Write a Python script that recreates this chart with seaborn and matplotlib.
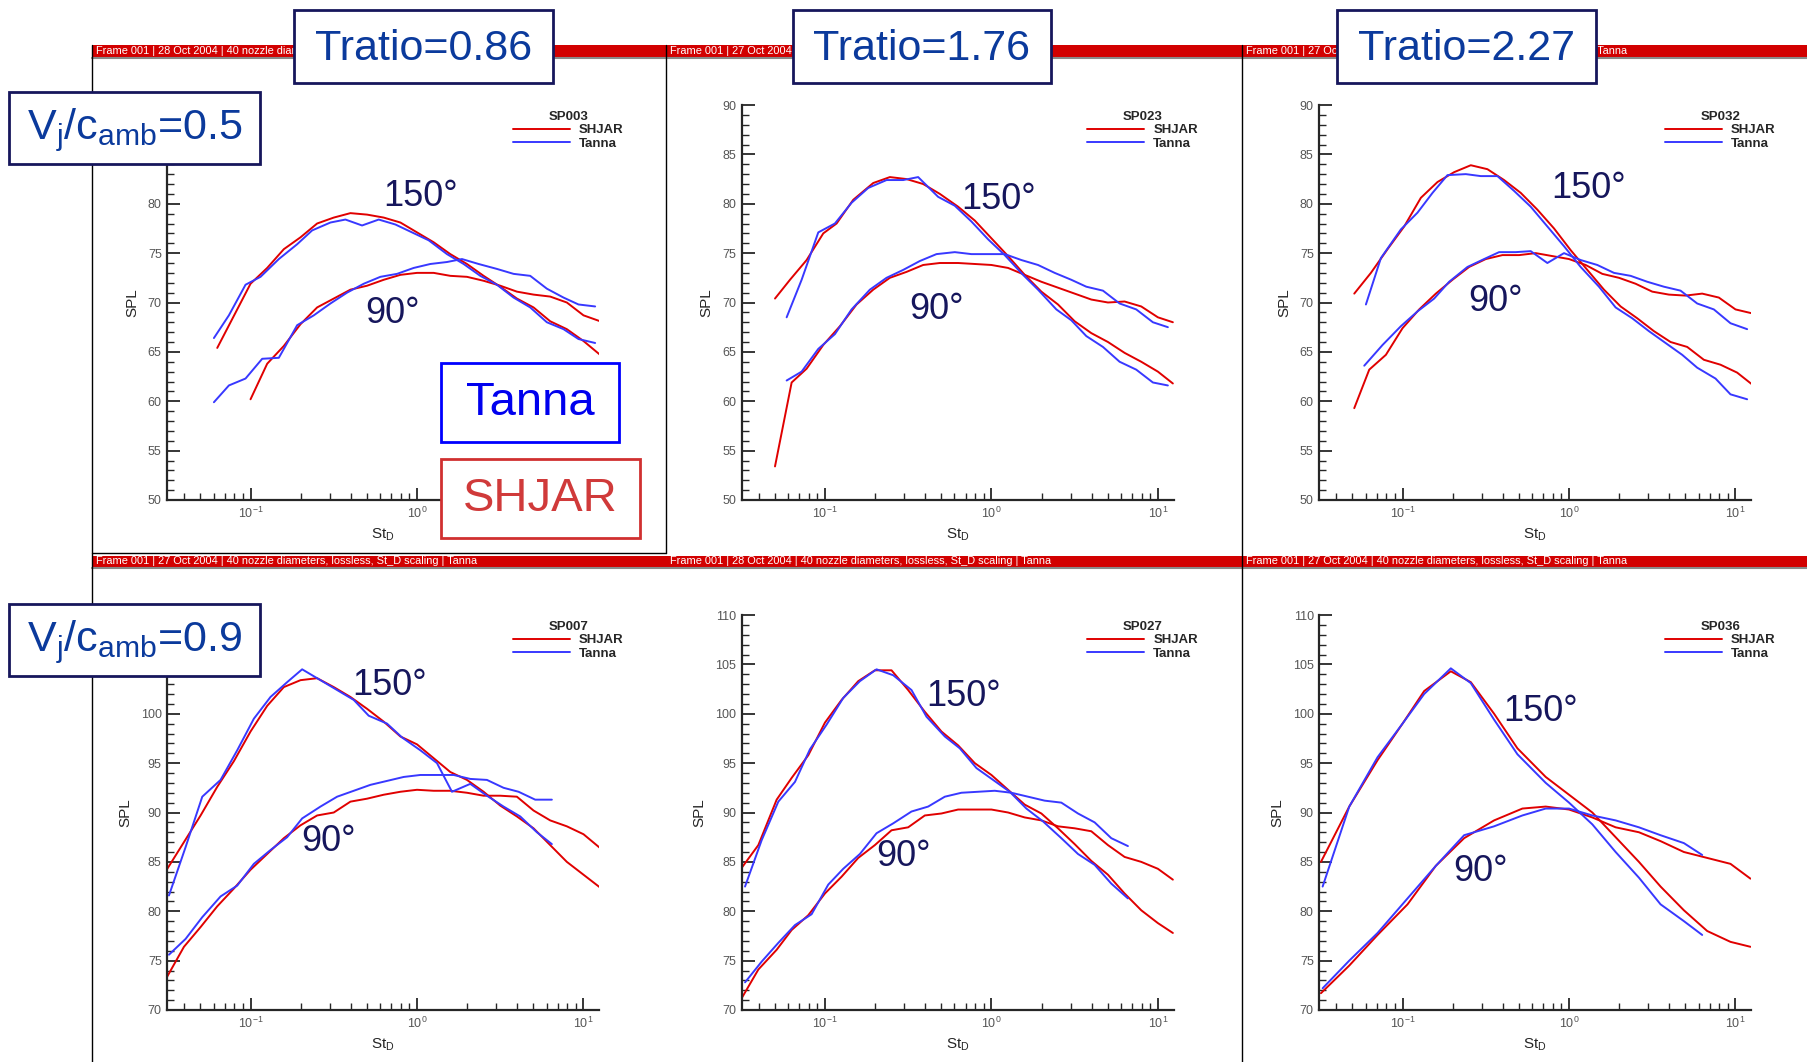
import numpy as np
import pandas as pd
import matplotlib
matplotlib.use("Agg")
import matplotlib.pyplot as plt
import seaborn as sns
from matplotlib import font_manager
from matplotlib.patches import Rectangle
from matplotlib.lines import Line2D
from matplotlib.ticker import MultipleLocator, LogLocator, NullFormatter

# ---- data: (log10 St_D, SPL) ----
# SP003  Vj/c=0.5  Tratio=0.86
tl_shjar_150 = [(-1.20, 65.4), (-1.00, 71.9), (-0.90, 73.5), (-0.80, 75.4), (-0.70, 76.6), (-0.60, 78.0),
                (-0.50, 78.6), (-0.40, 79.05), (-0.30, 78.9), (-0.20, 78.6), (-0.10, 78.1), (0.00, 77.1),
                (0.10, 76.1), (0.20, 74.9), (0.30, 73.9), (0.40, 72.7), (0.50, 71.6), (0.60, 70.4),
                (0.70, 69.5), (0.80, 68.1), (0.90, 67.3), (1.00, 66.1), (1.10, 64.7)]
tl_tanna_150 = [(-1.22, 66.4), (-1.13, 68.7), (-1.03, 71.8), (-0.94, 72.6), (-0.83, 74.4), (-0.72, 75.9),
                (-0.63, 77.3), (-0.52, 78.1), (-0.43, 78.4), (-0.33, 77.8), (-0.23, 78.4), (-0.13, 77.9),
                (-0.03, 77.1), (0.07, 76.3), (0.18, 74.9), (0.28, 73.9), (0.38, 72.7), (0.48, 71.8),
                (0.58, 70.5), (0.68, 69.5), (0.78, 68.0), (0.88, 67.3), (0.97, 66.3), (1.07, 65.9)]
tl_shjar_90 = [(-1.00, 60.2), (-0.90, 63.8), (-0.80, 65.6), (-0.70, 67.8), (-0.60, 69.5), (-0.50, 70.4),
               (-0.40, 71.3), (-0.30, 71.7), (-0.20, 72.3), (-0.10, 72.8), (0.00, 73.0), (0.10, 73.0),
               (0.20, 72.7), (0.30, 72.6), (0.40, 72.2), (0.50, 71.7), (0.60, 71.1), (0.70, 70.8),
               (0.80, 70.6), (0.90, 70.0), (1.00, 68.7), (1.10, 68.1)]
tl_tanna_90 = [(-1.22, 59.9), (-1.13, 61.6), (-1.03, 62.3), (-0.93, 64.3), (-0.83, 64.4), (-0.72, 67.7),
               (-0.62, 68.7), (-0.52, 69.9), (-0.42, 71.0), (-0.32, 71.9), (-0.22, 72.6), (-0.12, 72.9),
               (-0.02, 73.5), (0.08, 73.9), (0.18, 74.1), (0.27, 74.4), (0.37, 73.9), (0.48, 73.4),
               (0.58, 72.9), (0.68, 72.7), (0.78, 71.4), (0.88, 70.5), (0.97, 69.8), (1.07, 69.6)]

# SP023  Vj/c=0.5  Tratio=1.76
tm_shjar_150 = [(-1.30, 70.4), (-1.21, 72.3), (-1.11, 74.3), (-1.01, 77.0), (-0.93, 78.0), (-0.83, 80.4),
                (-0.71, 82.1), (-0.61, 82.7), (-0.51, 82.5), (-0.41, 82.0), (-0.31, 81.0), (-0.20, 79.7),
                (-0.10, 78.3), (0.00, 76.5), (0.10, 74.7), (0.20, 72.8), (0.30, 71.1), (0.40, 69.8),
                (0.50, 68.1), (0.60, 66.9), (0.70, 66.0), (0.80, 64.9), (0.90, 64.0), (1.00, 63.0), (1.09, 61.8)]
tm_tanna_150 = [(-1.23, 68.5), (-1.14, 72.3), (-1.04, 77.1), (-0.94, 78.0), (-0.84, 80.1), (-0.74, 81.6),
                (-0.63, 82.4), (-0.53, 82.4), (-0.44, 82.7), (-0.32, 80.7), (-0.22, 79.8), (-0.12, 78.2),
                (-0.02, 76.4), (0.08, 74.8), (0.19, 72.8), (0.28, 71.3), (0.39, 69.3), (0.48, 68.2),
                (0.57, 66.6), (0.67, 65.5), (0.77, 64.0), (0.87, 63.2), (0.97, 61.9), (1.06, 61.6)]
tm_shjar_90 = [(-1.30, 53.4), (-1.20, 61.9), (-1.11, 63.3), (-1.01, 65.7), (-0.91, 67.6), (-0.81, 69.8),
               (-0.71, 71.3), (-0.61, 72.5), (-0.51, 73.1), (-0.41, 73.8), (-0.31, 74.0), (-0.20, 74.0),
               (-0.10, 73.9), (0.00, 73.8), (0.10, 73.5), (0.20, 72.8), (0.30, 72.1), (0.40, 71.5),
               (0.50, 70.9), (0.60, 70.3), (0.70, 70.0), (0.80, 70.1), (0.90, 69.6), (1.00, 68.5), (1.09, 68.0)]
tm_tanna_90 = [(-1.23, 62.1), (-1.14, 63.0), (-1.04, 65.3), (-0.94, 66.8), (-0.84, 69.3), (-0.73, 71.3),
               (-0.63, 72.5), (-0.53, 73.3), (-0.43, 74.2), (-0.33, 74.9), (-0.22, 75.1), (-0.12, 74.9),
               (-0.02, 74.9), (0.08, 74.9), (0.18, 74.3), (0.28, 73.8), (0.38, 73.0), (0.48, 72.3),
               (0.57, 71.6), (0.67, 71.2), (0.77, 69.9), (0.87, 69.3), (0.97, 68.0), (1.06, 67.5)]

# SP032  Vj/c=0.5  Tratio=2.27
tr_shjar_150 = [(-1.29, 70.9), (-1.19, 73.0), (-1.09, 75.4), (-0.99, 77.7), (-0.89, 80.6), (-0.79, 82.2),
                (-0.69, 83.2), (-0.59, 83.9), (-0.49, 83.5), (-0.39, 82.4), (-0.29, 81.1), (-0.19, 79.4),
                (-0.09, 77.5), (0.01, 75.3), (0.11, 73.3), (0.21, 71.3), (0.31, 69.6), (0.41, 68.4),
                (0.51, 67.1), (0.61, 66.0), (0.71, 65.5), (0.81, 64.2), (0.91, 63.7), (1.01, 62.9), (1.10, 61.7)]
tr_tanna_150 = [(-1.22, 69.8), (-1.13, 74.5), (-1.01, 77.4), (-0.91, 79.1), (-0.82, 81.1), (-0.73, 82.9),
                (-0.62, 83.0), (-0.53, 82.8), (-0.43, 82.8), (-0.33, 81.3), (-0.23, 79.7), (-0.13, 77.7),
                (-0.03, 75.7), (0.07, 73.6), (0.18, 71.6), (0.28, 69.5), (0.38, 68.4), (0.48, 67.1),
                (0.58, 65.9), (0.68, 64.7), (0.77, 63.4), (0.88, 62.3), (0.97, 60.7), (1.07, 60.2)]
tr_shjar_90 = [(-1.29, 59.3), (-1.20, 63.2), (-1.10, 64.7), (-1.00, 67.4), (-0.90, 69.3), (-0.80, 70.9),
               (-0.70, 72.3), (-0.60, 73.6), (-0.50, 74.4), (-0.40, 74.8), (-0.30, 74.8), (-0.20, 75.0),
               (-0.10, 74.7), (0.00, 74.4), (0.10, 73.8), (0.20, 72.9), (0.30, 72.5), (0.40, 71.9),
               (0.50, 71.1), (0.60, 70.8), (0.70, 70.7), (0.80, 70.9), (0.90, 70.5), (1.00, 69.3), (1.10, 68.9)]
tr_tanna_90 = [(-1.23, 63.6), (-1.12, 65.7), (-1.01, 67.6), (-0.91, 69.1), (-0.81, 70.4), (-0.72, 72.1),
               (-0.61, 73.6), (-0.51, 74.4), (-0.42, 75.1), (-0.32, 75.1), (-0.23, 75.2), (-0.13, 74.0),
               (-0.03, 75.0), (0.07, 74.3), (0.17, 73.8), (0.27, 73.0), (0.37, 72.7), (0.47, 72.1),
               (0.57, 71.6), (0.67, 71.2), (0.77, 69.9), (0.87, 69.3), (0.97, 67.9), (1.07, 67.3)]

# SP007  Vj/c=0.9  Tratio=0.86
bl_shjar_150 = [(-1.50, 84.3), (-1.40, 87.0), (-1.30, 89.7), (-1.20, 92.6), (-1.10, 95.2), (-1.00, 98.2),
                (-0.90, 100.8), (-0.80, 102.7), (-0.70, 103.4), (-0.60, 103.6), (-0.50, 102.7), (-0.40, 101.7),
                (-0.30, 100.5), (-0.20, 99.2), (-0.10, 97.7), (0.00, 96.9), (0.10, 95.5), (0.20, 94.1),
                (0.30, 93.3), (0.40, 92.1), (0.50, 90.7), (0.60, 89.6), (0.70, 88.4), (0.80, 86.7),
                (0.90, 85.0), (1.00, 83.7), (1.10, 82.4)]
bl_tanna_150 = [(-1.49, 81.6), (-1.39, 86.5), (-1.29, 91.6), (-1.18, 93.3), (-1.08, 96.3), (-0.98, 99.5),
                (-0.88, 101.7), (-0.78, 103.2), (-0.69, 104.5), (-0.58, 103.4), (-0.48, 102.4), (-0.38, 101.4),
                (-0.29, 99.8), (-0.18, 99.0), (-0.09, 97.6), (0.02, 96.3), (0.12, 95.0), (0.21, 92.1),
                (0.32, 92.9), (0.42, 91.7), (0.52, 90.6), (0.62, 89.6), (0.72, 88.0), (0.81, 86.8)]
bl_shjar_90 = [(-1.50, 73.4), (-1.40, 76.4), (-1.30, 78.4), (-1.20, 80.5), (-1.10, 82.3), (-1.00, 84.2),
               (-0.90, 85.8), (-0.80, 87.4), (-0.70, 88.7), (-0.60, 89.7), (-0.50, 90.0), (-0.40, 91.1),
               (-0.30, 91.4), (-0.20, 91.8), (-0.10, 92.1), (0.00, 92.3), (0.10, 92.2), (0.20, 92.2),
               (0.30, 92.0), (0.40, 91.7), (0.50, 91.7), (0.60, 91.6), (0.70, 90.2), (0.80, 89.2),
               (0.90, 88.6), (1.00, 87.8), (1.10, 86.4)]
bl_tanna_90 = [(-1.49, 75.6), (-1.39, 77.2), (-1.29, 79.4), (-1.18, 81.5), (-1.08, 82.6), (-0.98, 84.8),
               (-0.88, 86.2), (-0.78, 87.5), (-0.69, 89.4), (-0.58, 90.6), (-0.48, 91.6), (-0.38, 92.2),
               (-0.28, 92.8), (-0.18, 93.2), (-0.08, 93.6), (0.02, 93.8), (0.12, 93.8), (0.22, 93.8),
               (0.32, 93.4), (0.42, 93.3), (0.52, 92.5), (0.61, 92.1), (0.71, 91.3), (0.81, 91.3)]

# SP027  Vj/c=0.9  Tratio=1.76
bm_shjar_150 = [(-1.50, 84.4), (-1.40, 86.7), (-1.29, 91.3), (-1.20, 93.5), (-1.10, 95.8), (-1.00, 99.1),
                (-0.90, 101.4), (-0.80, 103.3), (-0.70, 104.4), (-0.60, 104.4), (-0.50, 102.4), (-0.40, 100.2),
                (-0.30, 98.2), (-0.20, 96.8), (-0.10, 95.0), (0.00, 93.8), (0.10, 92.3), (0.20, 90.8),
                (0.30, 89.9), (0.40, 88.4), (0.50, 86.8), (0.60, 85.1), (0.70, 83.7), (0.80, 81.8),
                (0.90, 80.1), (1.00, 78.8), (1.09, 77.8)]
bm_tanna_150 = [(-1.48, 82.5), (-1.38, 87.2), (-1.28, 91.1), (-1.18, 93.1), (-1.09, 96.4), (-0.99, 98.9),
                (-0.89, 101.6), (-0.79, 103.3), (-0.69, 104.5), (-0.59, 103.9), (-0.48, 102.4), (-0.39, 99.7),
                (-0.28, 97.7), (-0.19, 96.5), (-0.09, 94.5), (0.01, 93.3), (0.11, 92.1), (0.21, 90.4),
                (0.31, 89.1), (0.42, 87.4), (0.52, 85.8), (0.62, 84.7), (0.72, 82.8), (0.82, 81.3)]
bm_shjar_90 = [(-1.50, 71.2), (-1.40, 74.1), (-1.29, 76.1), (-1.20, 78.1), (-1.10, 79.6), (-1.00, 81.8),
               (-0.90, 83.5), (-0.80, 85.4), (-0.70, 86.7), (-0.60, 88.2), (-0.50, 88.5), (-0.40, 89.7),
               (-0.30, 89.9), (-0.20, 90.3), (-0.10, 90.3), (0.00, 90.3), (0.10, 90.0), (0.20, 89.5),
               (0.30, 89.2), (0.40, 88.6), (0.50, 88.4), (0.60, 88.1), (0.70, 86.7), (0.80, 85.5),
               (0.90, 85.0), (1.00, 84.3), (1.09, 83.2)]
bm_tanna_90 = [(-1.48, 72.8), (-1.38, 74.9), (-1.28, 76.8), (-1.18, 78.6), (-1.08, 79.7), (-0.98, 82.7),
               (-0.89, 84.3), (-0.79, 85.8), (-0.69, 87.9), (-0.59, 88.9), (-0.48, 90.1), (-0.38, 90.6),
               (-0.28, 91.6), (-0.18, 92.0), (-0.08, 92.1), (0.02, 92.2), (0.12, 92.0), (0.22, 91.6),
               (0.32, 91.2), (0.42, 91.0), (0.52, 89.9), (0.62, 89.0), (0.72, 87.4), (0.82, 86.6)]

# SP036  Vj/c=0.9  Tratio=2.27
br_shjar_150 = [(-1.49, 85.0), (-1.32, 90.6), (-1.15, 95.3), (-1.00, 99.0), (-0.87, 102.3), (-0.71, 104.3),
                (-0.59, 103.2), (-0.45, 100.0), (-0.31, 96.5), (-0.14, 93.6), (0.00, 91.8), (0.14, 90.0),
                (0.28, 87.5), (0.42, 85.0), (0.55, 82.5), (0.69, 80.1), (0.83, 78.0), (0.97, 76.9), (1.09, 76.4)]
br_tanna_150 = [(-1.48, 82.5), (-1.32, 90.6), (-1.15, 95.6), (-1.00, 99.0), (-0.87, 102.0), (-0.71, 104.6),
                (-0.59, 103.1), (-0.45, 99.4), (-0.31, 95.9), (-0.14, 93.0), (0.00, 91.0), (0.14, 88.8),
                (0.28, 86.0), (0.42, 83.4), (0.55, 80.7), (0.69, 79.0), (0.80, 77.6)]
br_shjar_90 = [(-1.49, 71.7), (-1.32, 74.5), (-1.15, 77.6), (-0.97, 80.7), (-0.80, 84.6), (-0.63, 87.4),
               (-0.45, 89.2), (-0.28, 90.4), (-0.14, 90.6), (0.00, 90.3), (0.14, 89.5), (0.28, 88.5),
               (0.42, 88.0), (0.55, 87.1), (0.69, 86.0), (0.83, 85.4), (0.97, 84.8), (1.09, 83.3)]
br_tanna_90 = [(-1.48, 72.2), (-1.32, 75.0), (-1.15, 77.8), (-0.97, 81.3), (-0.80, 84.6), (-0.63, 87.7),
               (-0.45, 88.6), (-0.28, 89.7), (-0.14, 90.4), (0.00, 90.4), (0.14, 89.7), (0.28, 89.2),
               (0.42, 88.5), (0.55, 87.7), (0.69, 86.9), (0.80, 85.7)]

panel_names = ["SP003", "SP023", "SP032", "SP007", "SP027", "SP036"]
panel_curves = [
    (tl_shjar_150, tl_tanna_150, tl_shjar_90, tl_tanna_90),
    (tm_shjar_150, tm_tanna_150, tm_shjar_90, tm_tanna_90),
    (tr_shjar_150, tr_tanna_150, tr_shjar_90, tr_tanna_90),
    (bl_shjar_150, bl_tanna_150, bl_shjar_90, bl_tanna_90),
    (bm_shjar_150, bm_tanna_150, bm_shjar_90, bm_tanna_90),
    (br_shjar_150, br_tanna_150, br_shjar_90, br_tanna_90),
]
# angle label spots (log10 St, SPL)
label_150 = [(0.02, 80.7), (0.04, 80.4), (0.12, 81.5), (-0.165, 102.9), (-0.17, 101.7), (-0.17, 100.2)]
label_90 = [(-0.15, 68.9), (-0.33, 69.3), (-0.44, 70.1), (-0.53, 87.1), (-0.53, 85.5), (-0.53, 84.0)]
tratio_labels = ["Tratio=0.86", "Tratio=1.76", "Tratio=2.27"]
vj_labels = [r"V$_\mathregular{j}$/c$_\mathregular{amb}$=0.5", r"V$_\mathregular{j}$/c$_\mathregular{amb}$=0.9"]
frame_dates = ["28 Oct 2004", "27 Oct 2004", "27 Oct 2004", "27 Oct 2004", "28 Oct 2004", "27 Oct 2004"]

# ---- style ----
sns.set_style("ticks")
names = {f.name for f in font_manager.fontManager.ttflist}
HAS_NARROW = "Liberation Sans Narrow" in names
NARROW = "Liberation Sans Narrow" if HAS_NARROW else "Liberation Sans"
plt.rcParams["font.family"] = ["Liberation Sans", "DejaVu Sans"]

RED = "#e00000"
BLUE = "#3838ff"
NAVY = "#16165c"

W, H = 1807, 1062
fig = plt.figure(figsize=(W / 100, H / 100), dpi=100)


def fx(x):
    return x / W


def fy(y):
    return 1 - y / H


def fig_box(x0, y0, x1, y1, ec, lw=2.0):
    fig.add_artist(Rectangle((fx(x0), fy(y1)), fx(x1 - x0), (y1 - y0) / H, transform=fig.transFigure,
                             facecolor="white", edgecolor=ec, lw=lw, zorder=10))


def fig_line(x0, y0, x1, y1, color="black", lw=1.0):
    fig.add_artist(Line2D([fx(x0), fx(x1)], [fy(y0), fy(y1)], transform=fig.transFigure,
                          color=color, lw=lw, zorder=3))


# panel frames and red header bars
col_edges = [(92, 666), (666, 1242), (1242, 1807)]
bar_y = [(45, 57), (556, 567)]
for r in range(2):
    for c in range(3):
        x0, x1 = col_edges[c]
        y0, y1 = bar_y[r]
        fig.add_artist(Rectangle((fx(x0), fy(y1)), fx(x1 - x0), (y1 - y0) / H, transform=fig.transFigure,
                                 facecolor="#d20000", edgecolor="none", zorder=2))
        fig_line(x0, y1 + 1, x1, y1 + 1, color="#8a8a8a", lw=1.5)
        fig.text(fx(x0 + 4), fy((y0 + y1) / 2), "Frame 001 | " + frame_dates[r * 3 + c] +
                 " | 40 nozzle diameters, lossless, St_D scaling | Tanna",
                 color="white", fontsize=7.9 if not HAS_NARROW else 9, family=NARROW,
                 va="center", ha="left", zorder=3)
fig_line(92, 45, 92, 1062)
fig_line(1242, 45, 1242, 1062)
fig_line(666, 45, 666, 553)
fig_line(92, 553, 666, 553)

# axes
col_left = [167.3, 741.7, 1319.3]
row_top = [105, 615]
row_bot = [500, 1010]
ylims = [(50, 90), (70, 110)]

for i, (name, curves) in enumerate(zip(panel_names, panel_curves)):
    r, c = divmod(i, 3)
    ax = fig.add_axes([fx(col_left[c]), fy(row_bot[r]), 432 / W, (row_bot[r] - row_top[r]) / H])
    rows = []
    for (src, ang), pts in zip([("SHJAR", 150), ("Tanna", 150), ("SHJAR", 90), ("Tanna", 90)], curves):
        for lg, spl in pts:
            rows.append({"St": 10 ** lg, "SPL": spl, "source": src, "angle": ang})
    df = pd.DataFrame(rows)
    sns.lineplot(data=df, x="St", y="SPL", hue="source", units="angle", estimator=None,
                 palette={"SHJAR": RED, "Tanna": BLUE}, hue_order=["SHJAR", "Tanna"],
                 lw=1.4, ax=ax)
    ax.set_xscale("log")
    ax.set_xlim(10 ** -1.5, 10 ** 1.095)
    ax.set_ylim(*ylims[r])
    ax.yaxis.set_major_locator(MultipleLocator(5))
    ax.yaxis.set_minor_locator(MultipleLocator(1))
    ax.xaxis.set_major_locator(LogLocator(base=10))
    ax.xaxis.set_minor_locator(LogLocator(base=10, subs=np.arange(2, 10)))
    ax.xaxis.set_minor_formatter(NullFormatter())
    ax.tick_params(which="major", direction="in", length=9, width=1.3, labelsize=9,
                   labelcolor="#555555", pad=4)
    ax.tick_params(which="minor", direction="in", length=5, width=1.0)
    for s in ["top", "right"]:
        ax.spines[s].set_visible(False)
    for s in ["left", "bottom"]:
        ax.spines[s].set_linewidth(1.6)
    ax.set_xlabel(r"St$_\mathregular{D}$", fontsize=11, labelpad=4)
    ax.set_ylabel("SPL", fontsize=11, labelpad=6)
    ax.patch.set_alpha(0)

    handles, labels = ax.get_legend_handles_labels()
    leg = ax.legend(handles, labels, title=name, loc="upper left", bbox_to_anchor=(0.8, 0.985),
                    frameon=False, fontsize=9.5, title_fontsize=9.5, handlelength=4.3,
                    handletextpad=0.7, labelspacing=0.08, borderpad=0, borderaxespad=0)
    leg.get_title().set_fontweight("bold")
    for t in leg.get_texts():
        t.set_fontweight("bold")

    lx, ly = label_150[i]
    ax.text(10 ** lx, ly, "150°", fontsize=26, color=NAVY, ha="center", va="center")
    lx, ly = label_90[i]
    ax.text(10 ** lx, ly, "90°", fontsize=26, color=NAVY, ha="center", va="center")

# annotation boxes
big = 38 if HAS_NARROW else 31
tratio_boxes = [(294, 10, 553, 83), (793, 10, 1051, 83), (1337, 10, 1596, 83)]
for (x0, y0, x1, y1), txt in zip(tratio_boxes, tratio_labels):
    fig_box(x0, y0, x1, y1, NAVY)
    fig.text(fx((x0 + x1) / 2), fy((y0 + y1) / 2 + 2), txt, fontsize=big, family=NARROW,
             color="#0b3a9c", ha="center", va="center", zorder=11)
vj_boxes = [(9, 92, 260, 164), (9, 604, 260, 676)]
for (x0, y0, x1, y1), txt in zip(vj_boxes, vj_labels):
    fig_box(x0, y0, x1, y1, NAVY)
    fig.text(fx((x0 + x1) / 2), fy((y0 + y1) / 2 + 2), txt, fontsize=big, family=NARROW,
             color="#0b3a9c", ha="center", va="center", zorder=11)

fig_box(441, 363, 619, 442, "#0000ff", lw=2.0)
fig.text(fx(530), fy(403), "Tanna", fontsize=34, color="#0000ee", ha="center", va="center", zorder=11)
fig_box(441, 459, 640, 538, "#d03030", lw=2.0)
fig.text(fx(540), fy(499), "SHJAR", fontsize=34, color="#d03a3a", ha="center", va="center", zorder=11)

fig.savefig("out.png", dpi=100)
